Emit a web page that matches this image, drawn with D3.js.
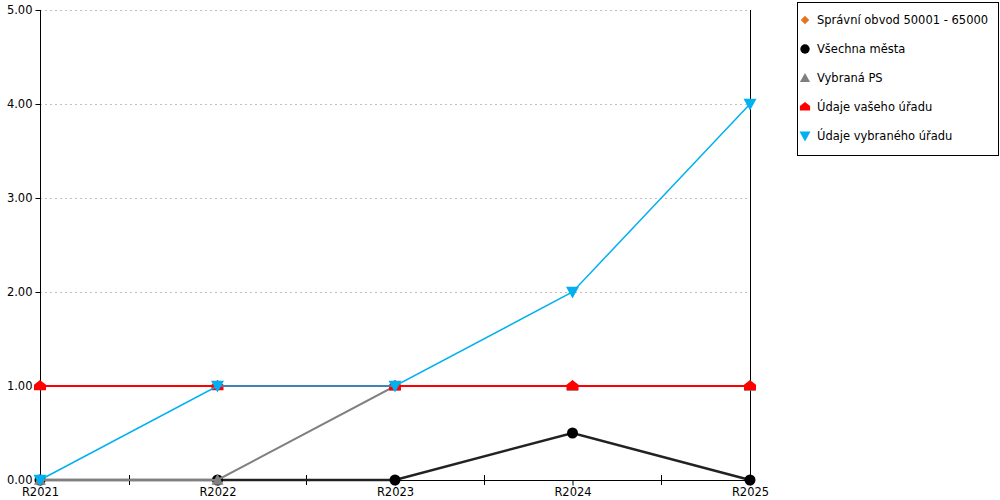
<!DOCTYPE html>
<html><head><meta charset="utf-8">
<script src="https://cdn.jsdelivr.net/npm/d3@7"></script>
<style>body{margin:0;background:#fff}svg{display:block}text{font-family:"DejaVu Sans",Verdana,sans-serif}</style>
</head><body><svg id="c" width="1000" height="500"></svg>
<script>
const categories = ["R2021","R2022","R2023","R2024","R2025"];
const yTicks = [0,1,2,3,4,5];
const seriesNames = ["Správní obvod 50001 - 65000","Všechna města","Vybraná PS","Údaje vašeho úřadu","Údaje vybraného úřadu"];
const seriesSpravni = [null,null,null,null,null];
const seriesVsechna = [0,0,0,0.5,0];
const seriesVybranaPS = [0,0,1,1,1];
const seriesVaseho = [1,1,1,1,1];
const seriesVybraneho = [0,1,1,2,4];
const seriesColors = ["#e8731e","#000000","#808080","#ff0000","#00b0f0"];

const svg = d3.select("#c");
const L=40,R=750,T=10,B=480;
const x = d3.scalePoint().domain(categories).range([L,R]);
const y = d3.scaleLinear().domain([0,5]).range([B,T]);

// grid
svg.append("g").selectAll("line").data(yTicks.slice(1)).join("line")
 .attr("x1",L).attr("x2",R).attr("y1",d=>y(d)+0.5).attr("y2",d=>y(d)+0.5)
 .attr("stroke","#c0c0c0").attr("stroke-dasharray","2,3");

// y axis
const ya = svg.append("g").attr("transform",`translate(${L+0.5},0)`)
 .call(d3.axisLeft(y).tickValues(yTicks).tickFormat(d3.format(".2f")).tickSize(5).tickPadding(3));
ya.select(".domain").attr("stroke","#000").attr("d",`M0,${T}V${B}`);
ya.selectAll("text").attr("font-size",11.5).attr("fill","#000").attr("font-family","DejaVu Sans, Verdana, sans-serif");
ya.selectAll(".tick line").attr("x1",-5).attr("x2",0);

// right line
svg.append("line").attr("x1",R+0.5).attr("x2",R+0.5).attr("y1",T).attr("y2",B).attr("stroke","#000");

// x axis
const xa = svg.append("g").attr("transform",`translate(0,${B+0.5})`)
 .call(d3.axisBottom(x).tickSize(5).tickPadding(2));
xa.select(".domain").attr("d",`M${L},0H${R}`).attr("stroke","#000");
xa.selectAll("text").attr("font-size",11.5).attr("fill","#000").attr("font-family","DejaVu Sans, Verdana, sans-serif");
xa.selectAll(".tick line").attr("y1",0).attr("y2",5);
// minor ticks between categories
const mids = categories.slice(1).map((c,i)=>(x(categories[i])+x(c))/2);
svg.append("g").selectAll("line").data(mids).join("line")
 .attr("x1",d=>Math.round(d)+0.5).attr("x2",d=>Math.round(d)+0.5).attr("y1",B-5).attr("y2",B+5).attr("stroke","#000");

// marker shapes
function markerPath(type,s){
  if(type==="diamond") return `M0,${-s}L${s},0L0,${s}L${-s},0Z`;
  if(type==="circle") return d3.symbol(d3.symbolCircle, Math.PI*s*s)();
  if(type==="up") return `M0,${-s}L${s},${s*0.8}L${-s},${s*0.8}Z`;
  if(type==="house") return `M0,${-s}L${s},${-s*0.2}L${s},${s*0.7}L${-s},${s*0.7}L${-s},${-s*0.2}Z`;
  if(type==="down") return `M${-s},${-s*0.8}L${s},${-s*0.8}L0,${s}Z`;
}
const allSeries = [
 {vals:seriesSpravni,color:seriesColors[0],w:2,m:"diamond",s:5},
 {vals:seriesVsechna,color:seriesColors[1],w:2.5,m:"circle",s:5.5,lc:"#222"},
 {vals:seriesVybranaPS,color:seriesColors[2],w:2,m:"up",s:6},
 {vals:seriesVaseho,color:seriesColors[3],w:2,m:"house",s:6},
 {vals:seriesVybraneho,color:seriesColors[4],w:1.5,m:"down",s:6.5},
];
const line = d3.line().defined(d=>d.v!=null).x(d=>x(d.c)).y(d=>y(d.v));
allSeries.forEach(se=>{
  const pts = categories.map((c,i)=>({c,v:se.vals[i]}));
  svg.append("path").datum(pts).attr("d",line).attr("fill","none")
   .attr("stroke",se.lc||se.color).attr("stroke-width",se.w);
  svg.append("g").selectAll("path").data(pts.filter(d=>d.v!=null)).join("path")
   .attr("transform",d=>`translate(${x(d.c)},${y(d.v)})`)
   .attr("d",markerPath(se.m,se.s)).attr("fill",se.color);
});

// legend
const lg = svg.append("g");
lg.append("rect").attr("x",797.5).attr("y",2.5).attr("width",201).attr("height",153).attr("fill","#fff").attr("stroke","#000");
seriesNames.forEach((n,i)=>{
  const yy = 20 + i*29;
  const se = allSeries[i];
  lg.append("path").attr("transform",`translate(805,${yy})`).attr("d",markerPath(se.m,se.s*0.85)).attr("fill",se.color);
  lg.append("text").attr("x",817).attr("y",yy+4).attr("font-size",11.5).attr("fill","#000").text(n);
});
</script></body></html>
